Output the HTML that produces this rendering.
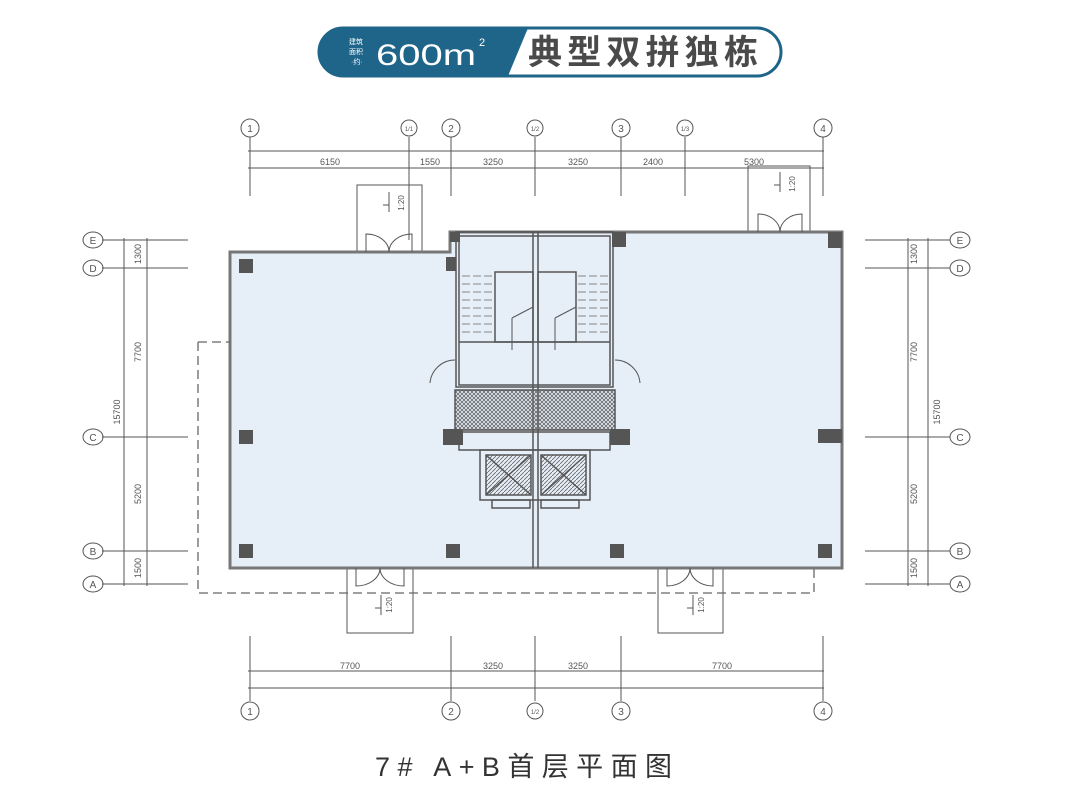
<!DOCTYPE html>
<html><head><meta charset="utf-8"><style>
html,body{margin:0;padding:0;background:#fff;width:1080px;height:810px;overflow:hidden}
svg{display:block}
.t{font-family:"Liberation Sans",sans-serif}
.c{font-family:"Liberation Sans","Noto Sans CJK SC",sans-serif}
</style></head><body>
<svg width="1080" height="810" viewBox="0 0 1080 810" xmlns="http://www.w3.org/2000/svg">
<defs>
<pattern id="xh" width="4" height="4" patternUnits="userSpaceOnUse"><path d="M0 0L4 4M4 0L0 4" stroke="#666" stroke-width="0.8"/></pattern>
<pattern id="dh" width="4" height="4" patternUnits="userSpaceOnUse"><path d="M0 4L4 0" stroke="#666" stroke-width="0.8"/></pattern>
</defs>
<!-- header -->
<rect x="319" y="28" width="462" height="48" rx="24" fill="#fff" stroke="#1e6589" stroke-width="3"/>
<path d="M343 28 L528 28 L508 76 L343 76 A24 24 0 0 1 343 28Z" fill="#1e6589"/>
<text x="349" y="44" class="c" font-size="7" fill="#fff">建筑</text>
<text x="349" y="54" class="c" font-size="7" fill="#fff">面积</text>
<text x="351" y="64" class="c" font-size="7" fill="#fff">·约·</text>
<text x="376" y="65" class="t" font-size="30" fill="#fff" textLength="100" lengthAdjust="spacingAndGlyphs">600m</text>
<text x="479" y="46" class="t" font-size="11" fill="#fff">2</text>
<text x="528" y="64" class="c" font-size="34" font-weight="bold" fill="#4a4a4a" textLength="230" lengthAdjust="spacing">典型双拼独栋</text>

<g stroke="#555" stroke-width="1" fill="none">
<line x1="248" y1="151" x2="824" y2="151"/><line x1="248" y1="168" x2="824" y2="168"/>
<line x1="250" y1="137" x2="250" y2="196"/><line x1="409" y1="137" x2="409" y2="240"/>
<line x1="451" y1="137" x2="451" y2="196"/><line x1="535" y1="137" x2="535" y2="196"/>
<line x1="621" y1="137" x2="621" y2="196"/><line x1="685" y1="137" x2="685" y2="196"/>
<line x1="823" y1="137" x2="823" y2="196"/>
<line x1="248" y1="671" x2="824" y2="671"/><line x1="248" y1="688" x2="824" y2="688"/>
<line x1="250" y1="636" x2="250" y2="701"/><line x1="451" y1="636" x2="451" y2="701"/>
<line x1="535" y1="636" x2="535" y2="701"/><line x1="621" y1="636" x2="621" y2="701"/>
<line x1="823" y1="636" x2="823" y2="701"/>
<line x1="124" y1="238" x2="124" y2="586"/><line x1="147" y1="238" x2="147" y2="586"/>
<line x1="102" y1="240" x2="188" y2="240"/><line x1="102" y1="268" x2="188" y2="268"/>
<line x1="102" y1="437" x2="188" y2="437"/><line x1="102" y1="551" x2="188" y2="551"/>
<line x1="102" y1="584" x2="188" y2="584"/>
<line x1="908" y1="238" x2="908" y2="586"/><line x1="928" y1="238" x2="928" y2="586"/>
<line x1="865" y1="240" x2="950" y2="240"/><line x1="865" y1="268" x2="950" y2="268"/>
<line x1="865" y1="437" x2="950" y2="437"/><line x1="865" y1="551" x2="950" y2="551"/>
<line x1="865" y1="584" x2="950" y2="584"/>
<circle cx="250" cy="128" r="9"/><circle cx="409" cy="128" r="8"/><circle cx="451" cy="128" r="9"/>
<circle cx="535" cy="128" r="8"/><circle cx="621" cy="128" r="9"/><circle cx="685" cy="128" r="8"/><circle cx="823" cy="128" r="9"/>
<circle cx="250" cy="711" r="9"/><circle cx="451" cy="711" r="9"/><circle cx="535" cy="711" r="8"/><circle cx="621" cy="711" r="9"/><circle cx="823" cy="711" r="9"/>
<ellipse cx="93" cy="240" rx="10" ry="8"/><ellipse cx="93" cy="268" rx="10" ry="8"/><ellipse cx="93" cy="437" rx="10" ry="8"/><ellipse cx="93" cy="551" rx="10" ry="8"/><ellipse cx="93" cy="584" rx="10" ry="8"/>
<ellipse cx="960" cy="240" rx="10" ry="8"/><ellipse cx="960" cy="268" rx="10" ry="8"/><ellipse cx="960" cy="437" rx="10" ry="8"/><ellipse cx="960" cy="551" rx="10" ry="8"/><ellipse cx="960" cy="584" rx="10" ry="8"/>
<rect x="357" y="185" width="65" height="67"/><rect x="748" y="166" width="62" height="66"/>
<rect x="347" y="568" width="66" height="65"/><rect x="658" y="568" width="65" height="65"/>
</g>
<g class="t" font-size="10" fill="#555" text-anchor="middle">
<text x="250" y="132">1</text><text x="451" y="132">2</text><text x="621" y="132">3</text><text x="823" y="132">4</text>
<text x="409" y="131" font-size="6">1/1</text><text x="535" y="131" font-size="6">1/2</text><text x="685" y="131" font-size="6">1/3</text>
<text x="250" y="715">1</text><text x="451" y="715">2</text><text x="621" y="715">3</text><text x="823" y="715">4</text><text x="535" y="714" font-size="6">1/2</text>
<text x="93" y="244">E</text><text x="93" y="272">D</text><text x="93" y="441">C</text><text x="93" y="555">B</text><text x="93" y="588">A</text>
<text x="960" y="244">E</text><text x="960" y="272">D</text><text x="960" y="441">C</text><text x="960" y="555">B</text><text x="960" y="588">A</text>
<g font-size="9">
<text x="330" y="165">6150</text><text x="430" y="165">1550</text><text x="493" y="165">3250</text><text x="578" y="165">3250</text><text x="653" y="165">2400</text><text x="754" y="165">5300</text>
<text x="350" y="669">7700</text><text x="493" y="669">3250</text><text x="578" y="669">3250</text><text x="722" y="669">7700</text>
<text transform="translate(141,254) rotate(-90)">1300</text><text transform="translate(141,352) rotate(-90)">7700</text>
<text transform="translate(141,494) rotate(-90)">5200</text><text transform="translate(141,568) rotate(-90)">1500</text>
<text transform="translate(120,412) rotate(-90)">15700</text>
<text transform="translate(917,254) rotate(-90)">1300</text><text transform="translate(917,352) rotate(-90)">7700</text>
<text transform="translate(917,494) rotate(-90)">5200</text><text transform="translate(917,568) rotate(-90)">1500</text>
<text transform="translate(940,412) rotate(-90)">15700</text>
<text transform="translate(404,203) rotate(-90)" font-size="8">1:20</text><text transform="translate(795,184) rotate(-90)" font-size="8">1:20</text>
<text transform="translate(392,605) rotate(-90)" font-size="8">1:20</text><text transform="translate(704,605) rotate(-90)" font-size="8">1:20</text>
</g></g>
<g stroke="#555" stroke-width="1">
<path d="M389 192V212M780 172V192M381 595V615M693 595V615"/>
<path d="M383 205H389M774 185H780M375 608H381M687 608H693"/>
</g>
<path d="M230 252 L450 252 L450 232 L842 232 L842 568 L230 568Z" fill="#e6eef8" stroke="#777" stroke-width="3"/>
<path d="M198 342 L230 342 M198 342 L198 593 L814 593 L814 568" fill="none" stroke="#666" stroke-width="1.3" stroke-dasharray="9,5"/>
<g stroke="#555" stroke-width="1.5" fill="none">
<line x1="533" y1="232" x2="533" y2="568"/><line x1="538" y1="232" x2="538" y2="568"/>
<rect x="456" y="232" width="157" height="155"/>
<rect x="459" y="236" width="151" height="149"/>
<rect x="495" y="272" width="38" height="70"/><rect x="538" y="272" width="38" height="70"/>
<line x1="459" y1="342" x2="610" y2="342"/>
<rect x="455" y="390" width="160" height="40" fill="url(#xh)"/>
<rect x="459" y="432" width="151" height="18"/>
<rect x="480" y="450" width="110" height="50"/>
<rect x="486" y="455" width="45" height="40" fill="url(#dh)"/><rect x="541" y="455" width="45" height="40" fill="url(#dh)"/>
<path d="M486 455L531 495M531 455L486 495M541 455L586 495M586 455L541 495"/>
<rect x="492" y="500" width="38" height="8"/><rect x="541" y="500" width="38" height="8"/>
</g>
<g stroke="#888" stroke-width="1" stroke-dasharray="8,3">
<path d="M462 276H493M462 284H493M462 292H493M462 300H493M462 308H493M462 316H493M462 324H493M462 332H493"/>
<path d="M578 276H609M578 284H609M578 292H609M578 300H609M578 308H609M578 316H609M578 324H609M578 332H609"/>
</g>
<g stroke="#555" fill="none" stroke-width="1">
<path d="M512 318L533 307M512 318V350M555 318L576 307M555 318V350"/>
<path d="M430 383 A25 25 0 0 1 455 360 M640 383 A25 25 0 0 0 615 360"/>
<path d="M366 252V234 A23 18 0 0 1 389 252 M412 252V234 A23 18 0 0 0 389 252"/>
<path d="M758 232V214 A22 18 0 0 1 780 232 M802 232V214 A22 18 0 0 0 780 232"/>
<path d="M356 568V586 A24 18 0 0 0 380 568 M404 568V586 A24 18 0 0 1 380 568"/>
<path d="M667 568V586 A23 18 0 0 0 690 568 M713 568V586 A23 18 0 0 1 690 568"/>
</g>
<g fill="#555">
<rect x="239" y="259" width="14" height="14"/><rect x="239" y="430" width="14" height="14"/><rect x="239" y="544" width="14" height="14"/>
<rect x="446" y="544" width="14" height="14"/><rect x="610" y="544" width="14" height="14"/><rect x="818" y="544" width="14" height="14"/>
<rect x="818" y="429" width="24" height="14"/><rect x="828" y="232" width="14" height="16"/>
<rect x="612" y="232" width="14" height="15"/><rect x="450" y="232" width="10" height="10"/><rect x="446" y="257" width="10" height="14"/>
<rect x="443" y="429" width="20" height="16"/><rect x="610" y="429" width="20" height="16"/>
</g>
<text x="375" y="776" class="c" font-size="27" fill="#333" textLength="297" lengthAdjust="spacing">7# A+B首层平面图</text>
</svg>
</body></html>
